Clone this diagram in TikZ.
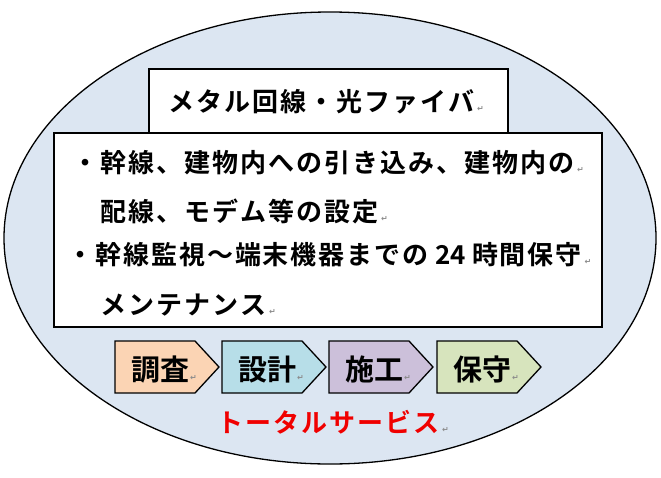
\documentclass[tikz,border=0pt]{standalone}
\usepackage{fontspec}
\usetikzlibrary{shapes.geometric}
\newfontfamily\jp{Noto Sans CJK JP}[BoldFont={* Bold}]
\newfontfamily\dvs{DejaVu Sans}
\def\trkloop#1{\ifx\relax#1\else#1\kern\trkamt\relax\expandafter\trkloop\fi}
\newcommand\trk[2]{\def\trkamt{#1}\trkloop#2\relax}
\newcommand\pil{\hspace{1pt}{\dvs\fontsize{8}{8}\selectfont\textcolor{black!45}{↵}}}
\definecolor{ellfill}{HTML}{DCE6F2}
\definecolor{cA}{HTML}{FBD4B4}
\definecolor{cB}{HTML}{B7DEE8}
\definecolor{cC}{HTML}{CCC0DA}
\definecolor{cD}{HTML}{D7E4BD}
\definecolor{totred}{HTML}{F00000}
\tikzset{
  boxline/.style={draw=black, line width=1.8pt, fill=white},
  chevline/.style={draw=black, line width=1.3pt},
  maintext/.style={anchor=base west, inner sep=0pt, font=\jp\bfseries\fontsize{26pt}{26pt}\selectfont},
  chevtext/.style={anchor=base west, inner sep=0pt, font=\jp\bfseries\fontsize{29pt}{29pt}\selectfont},
}
\newcommand\chevbox[4]{%
  \filldraw[fill=#2, chevline] (#1,341) -- ({#1+80},341) -- ({#1+104},367) -- ({#1+80},393) -- (#1,393) -- cycle;
  \node[chevtext] (#4) at ({#1+16},380) {#3\pil};
}
\begin{document}
\begin{tikzpicture}[x=1pt,y=-1pt]
\useasboundingbox (0,0) rectangle (661,477);
% ellipse
\node[draw=black, line width=1.3pt, fill=ellfill, ellipse, minimum width=652pt, minimum height=452pt, inner sep=0pt] (ell) at (330,238) {};
% boxes
\path[boxline] (149,69) rectangle (508,133);
\path[boxline] (54,133) rectangle (602,327);
\node[maintext] (title) at (168,111) {\trk{2pt}{メタル回線・光ファイバ}\pil};
\node[maintext] (l1) at (72,172.5) {\trk{2pt}{・幹線、建物内への引き込み、建物内の}\pil};
\node[maintext] (l2) at (100,221) {\trk{2pt}{配線、モデム等の設定}\pil};
\node[maintext] (l3) at (67.5,264) {\trk{1.9pt}{・幹線監視～端末機器までの}\hspace{5pt}24\hspace{6pt}\trk{1.9pt}{時間保守}\pil};
\node[maintext] (l4) at (100,314) {\trk{2pt}{メンテナンス}\pil};
% chevrons
\chevbox{115}{cA}{調査}{c1}
\chevbox{222}{cB}{設計}{c2}
\chevbox{329}{cC}{施工}{c3}
\chevbox{437}{cD}{保守}{c4}
% total service
\node[maintext, text=totred] (total) at (217,432) {\trk{2pt}{トータルサービス}\pil};
\end{tikzpicture}
\end{document}
